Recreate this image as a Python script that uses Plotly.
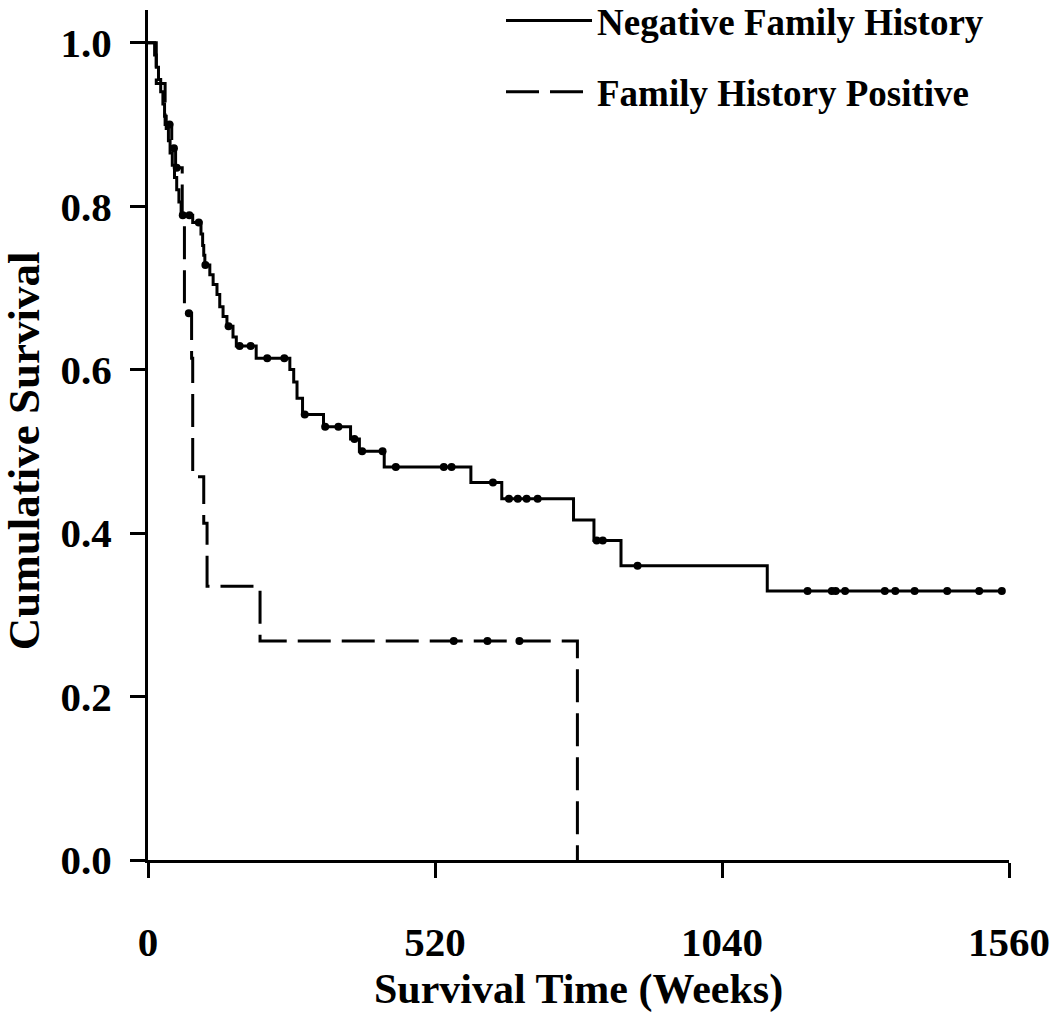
import numpy as np
import plotly.graph_objects as go

# ---- Data ----
neg_times = [0, 12, 15, 19, 23, 27, 30, 33, 37, 40, 44, 48, 52, 56, 60, 81, 96, 99, 101, 103,
             112, 118, 125, 130, 136, 143, 154, 160, 196, 257, 264, 270, 280, 318, 367, 383,
             428, 585, 641, 771, 808, 857, 1122, 1547]
neg_surv = [1.0, 0.985, 0.97, 0.955, 0.94, 0.925, 0.91, 0.895, 0.88, 0.865, 0.85, 0.835, 0.82,
            0.805, 0.789, 0.78, 0.766, 0.752, 0.74, 0.728, 0.716, 0.704, 0.692, 0.677, 0.665,
            0.653, 0.640, 0.629, 0.614, 0.600, 0.585, 0.565, 0.545, 0.530, 0.515, 0.500,
            0.481, 0.462, 0.442, 0.416, 0.391, 0.360, 0.329, 0.329]
neg_censored = [63, 75, 92, 104, 146, 166, 186, 216, 247, 284, 321, 345, 374, 388, 425, 449,
                536, 550, 625, 654, 670, 686, 706, 813, 824, 887, 1195, 1239, 1246, 1263,
                1335, 1354, 1389, 1448, 1506, 1547]

pos_times = [0, 15, 31, 43, 50, 62, 66, 79, 81, 101, 107, 203, 778]
pos_surv = [1.0, 0.95, 0.90, 0.871, 0.847, 0.79, 0.669, 0.614, 0.469, 0.412, 0.335, 0.268, 0.0]
pos_censored = [39, 47, 52, 74, 554, 615, 673]

x_ticks = [0, 520, 1040, 1560]
y_ticks = [0.0, 0.2, 0.4, 0.6, 0.8, 1.0]
y_ticktext = ["0.0", "0.2", "0.4", "0.6", "0.8", "1.0"]

names = ["Negative Family History", "Family History Positive"]
x_title = "Survival Time (Weeks)"
y_title = "Cumulative Survival"


def surv_at(times, surv, t):
    idx = np.searchsorted(np.asarray(times), np.asarray(t), side="right") - 1
    return np.asarray(surv)[idx]


FONT = "Liberation Serif, Times New Roman, serif"
fig = go.Figure()

fig.add_trace(go.Scatter(x=neg_times, y=neg_surv, mode="lines", line_shape="hv",
                         line=dict(color="black", width=3), name=names[0],
                         legendgroup="a"))
fig.add_trace(go.Scatter(x=pos_times, y=pos_surv, mode="lines", line_shape="hv",
                         line=dict(color="black", width=3, dash="33px,11px"), name=names[1],
                         legendgroup="b"))
fig.add_trace(go.Scatter(x=neg_censored, y=surv_at(neg_times, neg_surv, neg_censored),
                         mode="markers", marker=dict(color="black", size=8),
                         showlegend=False, hoverinfo="skip"))
fig.add_trace(go.Scatter(x=pos_censored, y=surv_at(pos_times, pos_surv, pos_censored),
                         mode="markers", marker=dict(color="black", size=8),
                         showlegend=False, hoverinfo="skip"))

fig.update_layout(
    width=1050, height=1013,
    margin=dict(l=148, r=41, t=10, b=153, autoexpand=False),
    paper_bgcolor="white", plot_bgcolor="white",
    font=dict(family=FONT, color="black", size=41, weight="bold"),
    showlegend=True,
    legend=dict(x=0.41, y=1.0235, xanchor="left", yanchor="top",
                font=dict(family=FONT, size=37, weight="bold"),
                itemwidth=86, tracegroupgap=20, bgcolor="rgba(0,0,0,0)"),
    xaxis=dict(range=[0, 1560], tickvals=x_ticks, ticktext=[str(v) for v in x_ticks],
               showgrid=False, zeroline=False, showline=True, linecolor="black",
               linewidth=3, ticks="outside", ticklen=15, tickwidth=3, tickcolor="black",
               ticklabelstandoff=29,
               tickfont=dict(family=FONT, size=41, weight="bold"),
               automargin=False),
    yaxis=dict(range=[0, 1.04], tickvals=y_ticks, ticktext=y_ticktext,
               showgrid=False, zeroline=False, showline=True, linecolor="black",
               linewidth=3, ticks="outside", ticklen=15, tickwidth=3, tickcolor="black",
               ticklabelstandoff=10,
               tickfont=dict(family=FONT, size=41, weight="bold"),
               automargin=False),
    annotations=[
        dict(text=y_title, textangle=-90, xref="paper", yref="y",
             x=0, y=0.5, xanchor="center", yanchor="middle", xshift=-124,
             showarrow=False,
             font=dict(family=FONT, size=45, weight="bold", color="black")),
        dict(text=x_title, xref="x", yref="paper",
             x=780, y=0, xanchor="center", yanchor="middle", yshift=-129,
             showarrow=False,
             font=dict(family=FONT, size=42, weight="bold", color="black")),
    ],
)

fig.write_html("out.html",
               config={"displayModeBar": False},
               post_script="document.body.style.margin='0';"
                           "document.documentElement.style.overflow='hidden';"
                           "document.body.style.overflow='hidden';")
